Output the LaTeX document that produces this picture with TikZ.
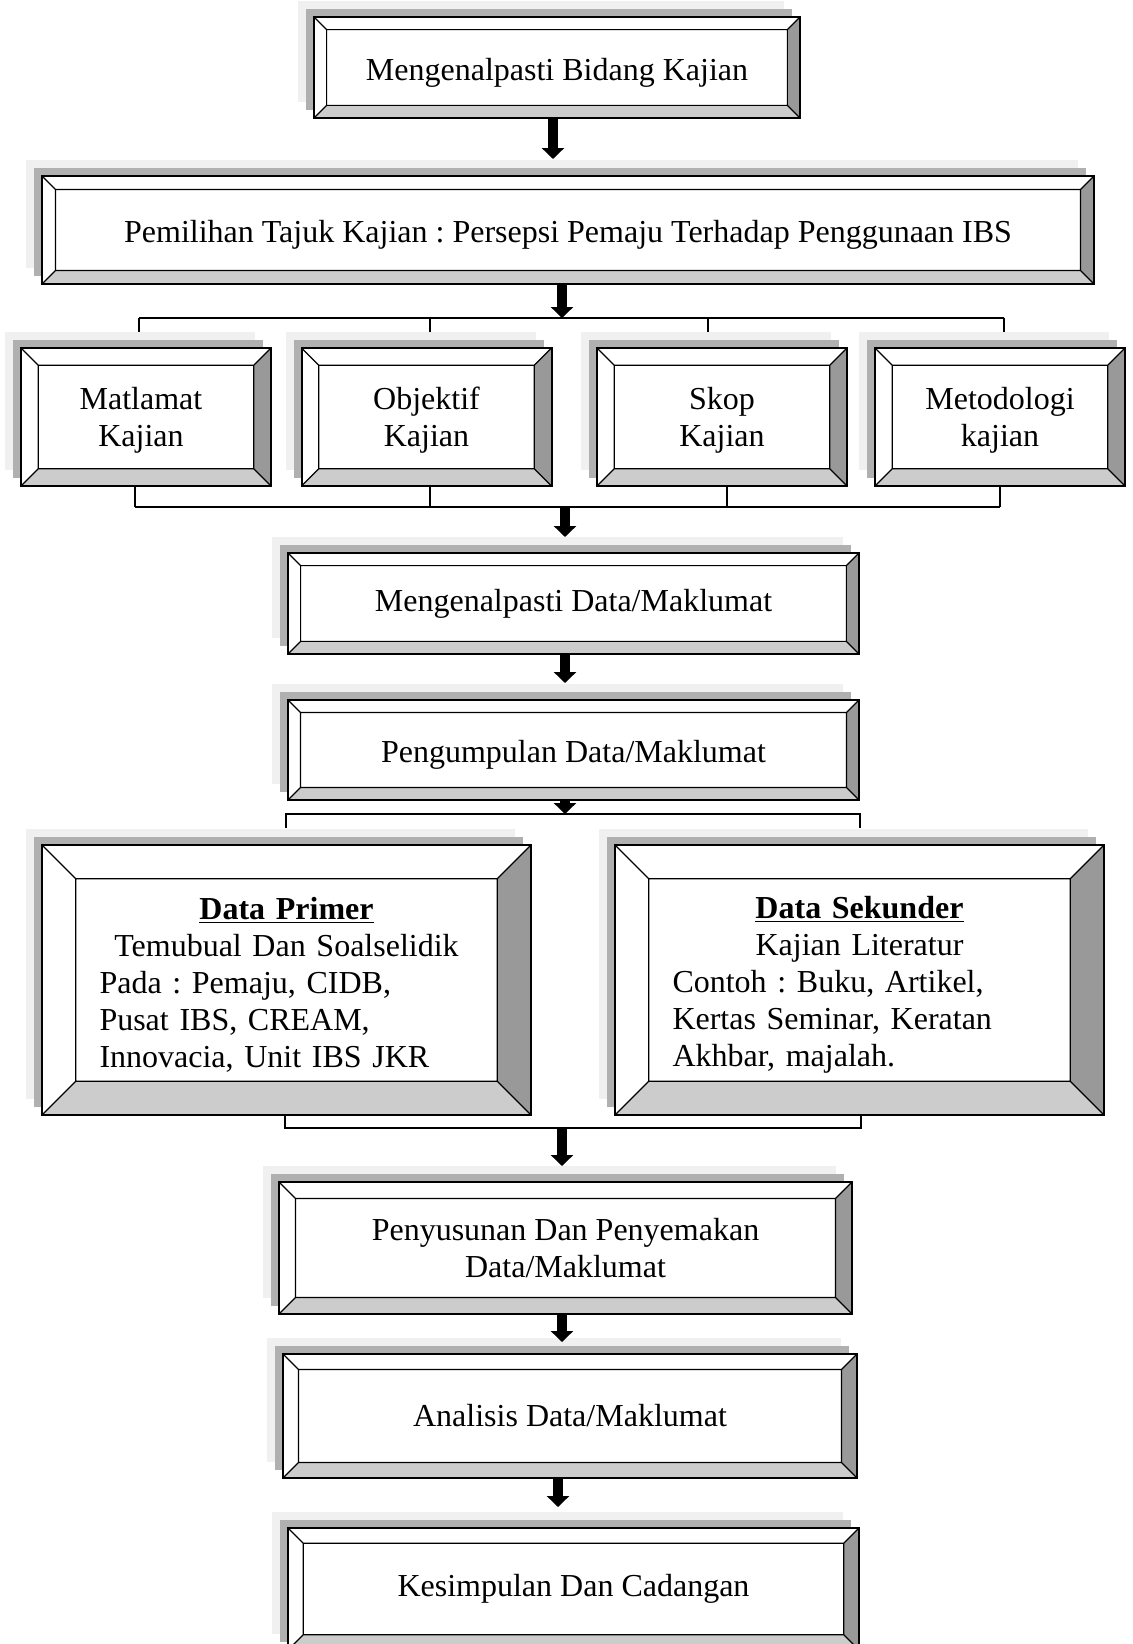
\documentclass[tikz,border=0pt]{standalone}
\usepackage{fontspec}
\setmainfont{Liberation Serif}
\usetikzlibrary{arrows.meta}
\usetikzlibrary{calc}
\usetikzlibrary{shadows}
\definecolor{facedark}{gray}{0.6}
\definecolor{facelight}{gray}{0.8}
\definecolor{shadedark}{gray}{0.69}
\definecolor{shadelight}{gray}{0.94}
\frenchspacing

\tikzset{
  bevelbox/.style={draw, line width=1pt, fill=white, inner sep=0pt, align=center,
    general shadow={fill=shadelight, shadow xshift=-8pt, shadow yshift=8pt},
    general shadow={fill=shadedark, shadow xshift=-4pt, shadow yshift=4pt},
    path picture={
      \path (path picture bounding box.south west) coordinate (sw)
            (path picture bounding box.north east) coordinate (ne);
      \path let \p1=(sw), \p2=(ne), \n1={0.125*(\y2-\y1)} in
        coordinate (isw) at (\x1+\n1,\y1+\n1)
        coordinate (ine) at (\x2-\n1,\y2-\n1);
      \fill [facedark] (sw -| ne) -- (ne) -- (ine) -- (isw -| ine) -- cycle;
      \fill [facelight] (sw) -- (sw -| ne) -- (isw -| ine) -- (isw) -- cycle;
      \draw [line width=.6pt] (isw) rectangle (ine)
        (sw) -- (isw) (ne) -- (ine) (sw |- ne) -- (isw |- ine) (sw -| ne) -- (isw -| ine);
    }},
  smallbox/.style={bevelbox, minimum width=125pt, minimum height=69pt},
  databox/.style={bevelbox, minimum width=244.5pt, minimum height=135pt,
    text width=187pt, align=left},
  fat/.style={line width=5pt, -{Triangle[width=11pt,length=5.5pt]}},
  link/.style={line width=.8pt}
}

\begin{document}
\begin{tikzpicture}[x=0.5pt, y=-0.5pt, font=\fontsize{16}{18.5}\selectfont]
  \useasboundingbox (0,0) rectangle (1133,1644);
  \clip (0,0) rectangle (1133,1644);

  \node [bevelbox, minimum width=243pt, minimum height=50.5pt, text height=16pt] (bidang) at (557, 67.5) {Mengenalpasti Bidang Kajian};
  \node [bevelbox, minimum width=526pt, minimum height=54pt, text height=16pt] (tajuk) at (568, 230) {Pemilihan Tajuk Kajian : Persepsi Pemaju Terhadap Penggunaan IBS};

  \node [smallbox] (matlamat) at (146, 417) {\rule{0pt}{14pt}Matlamat\hspace*{5pt}\\Kajian\hspace*{5pt}};
  \node [smallbox] (objektif) at (426.5, 417) {\rule{0pt}{14pt}Objektif\\Kajian};
  \node [smallbox] (skop) at (722, 417) {\rule{0pt}{14pt}Skop\\Kajian};
  \node [smallbox] (metod) at (1000, 417) {\rule{0pt}{14pt}Metodologi\\kajian};

  \node [bevelbox, minimum width=285.5pt, minimum height=50.5pt] (kenal) at (573.5, 603.5) {Mengenalpasti Data/Maklumat};
  \node [bevelbox, minimum width=285.5pt, minimum height=50pt, text height=16pt] (kumpul) at (573.5, 750) {Pengumpulan Data/Maklumat};

  \node [databox] (primer) at (286.5, 980) {\makebox[\linewidth]{\rule{0pt}{16pt}\underline{\textbf{Data Primer}}}\\
    \makebox[\linewidth]{Temubual Dan Soalselidik}\\
    Pada : Pemaju, CIDB,\\ Pusat IBS, CREAM,\\ Innovacia, Unit IBS JKR};
  \node [databox] (sekunder) at (859.5, 980) {\makebox[\linewidth]{\rule{0pt}{16pt}\underline{\textbf{Data Sekunder}}}\\
    \makebox[\linewidth]{Kajian Literatur}\\
    Contoh : Buku, Artikel,\\ Kertas Seminar, Keratan\\ Akhbar, majalah.};

  \node [bevelbox, minimum width=286.5pt, minimum height=66pt] (susun) at (565.5, 1248) {Penyusunan Dan Penyemakan\\Data/Maklumat};
  \node [bevelbox, minimum width=287pt, minimum height=62pt] (analisis) at (570, 1416) {Analisis Data/Maklumat};
  \node [bevelbox, minimum width=285.5pt, minimum height=61pt] (simpul) at (573.5, 1589) {Kesimpulan Dan Cadangan};

  % arrow ends and bracket corners
  \coordinate (t1) at (553, 159);
  \coordinate (t2) at (562, 318);
  \coordinate (t3) at (565, 537);
  \coordinate (t4) at (565, 683);
  \coordinate (t5) at (565, 814);
  \coordinate (t6) at (562, 1166);
  \coordinate (t7) at (562, 1342);
  \coordinate (t8) at (558, 1507);
  \coordinate (b1) at (139, 318);
  \coordinate (b2) at (430, 318);
  \coordinate (b3) at (708, 318);
  \coordinate (b4) at (1004, 318);
  \coordinate (c1) at (135, 507);
  \coordinate (c2) at (430, 507);
  \coordinate (c3) at (727, 507);
  \coordinate (c4) at (1000, 507);
  \coordinate (d1) at (286, 814);
  \coordinate (d2) at (860, 814);
  \coordinate (e1) at (285, 1128);
  \coordinate (e2) at (861, 1128);

  \draw [fat] (bidang.south -| t1) -- (t1);
  \draw [fat] (tajuk.south -| t2) -- (t2);

  \draw [link] (b1) -- (b4);
  \foreach \b in {b1,b2,b3,b4}
    \draw [link] (\b) -- ++(0,14);

  \draw [link] (c1) -- (c4);
  \foreach \c in {c1,c2,c3,c4}
    \draw [link] (\c |- matlamat.south) -- (\c);
  \draw [fat] (c1 -| t3) -- (t3);

  \draw [fat] (kenal.south -| t4) -- (t4);

  \draw [fat] (kumpul.south -| t5) -- (t5);
  \draw [link] (d1) ++(0,14) -- (d1) -- (d2) -- ++(0,14);

  \draw [link] (e1 |- primer.south) -- (e1) -- (e2) -- (e2 |- sekunder.south);
  \draw [fat] (e1 -| t6) -- (t6);

  \draw [fat] (susun.south -| t7) -- (t7);
  \draw [fat] (analisis.south -| t8) -- (t8);
\end{tikzpicture}
\end{document}
